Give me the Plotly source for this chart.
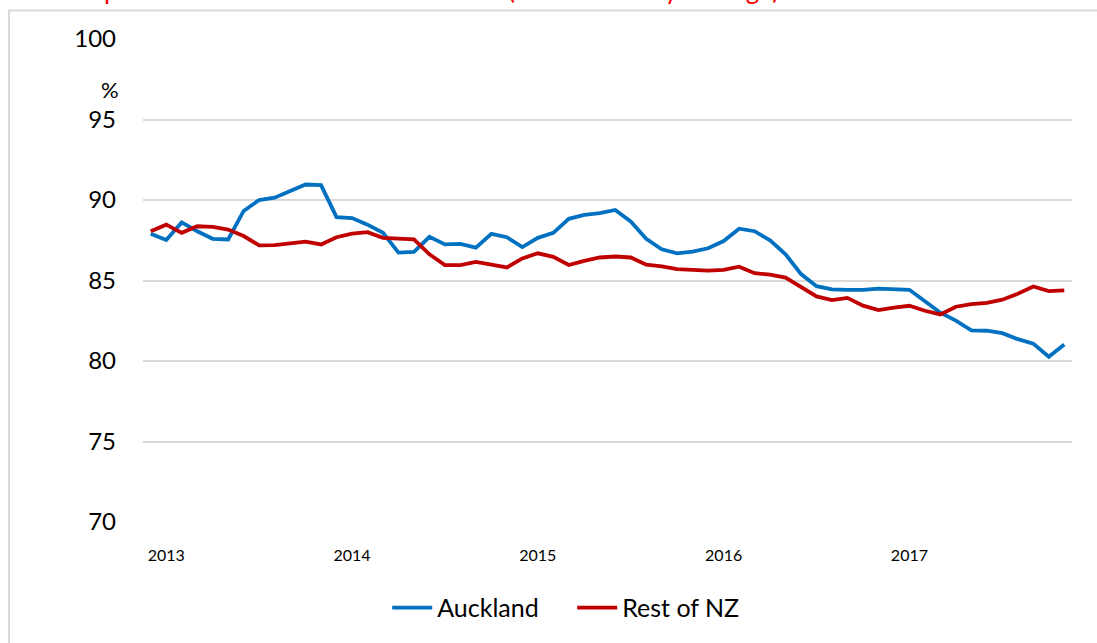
import pandas as pd
import plotly.graph_objects as go

# monthly observations, Dec 2012 - Nov 2017
months = list(pd.date_range("2012-12-01", periods=60, freq="MS").strftime("%b-%y"))

auckland = [87.90, 87.51, 88.61, 88.06, 87.59, 87.55, 89.32, 90.00, 90.14, 90.55,
            90.96, 90.92, 88.94, 88.88, 88.47, 87.96, 86.73, 86.78, 87.71, 87.24,
            87.28, 87.04, 87.90, 87.69, 87.08, 87.65, 87.96, 88.83, 89.08, 89.18,
            89.38, 88.67, 87.59, 86.94, 86.69, 86.79, 87.00, 87.45, 88.22, 88.06,
            87.49, 86.63, 85.40, 84.65, 84.45, 84.42, 84.42, 84.49, 84.47, 84.42,
            83.71, 83.00, 82.51, 81.90, 81.88, 81.73, 81.36, 81.08, 80.26, 81.02]

rest_of_nz = [88.06, 88.47, 87.96, 88.37, 88.33, 88.16, 87.76, 87.18, 87.20, 87.30,
              87.41, 87.24, 87.69, 87.91, 88.00, 87.65, 87.61, 87.55, 86.63, 85.96,
              85.96, 86.16, 85.98, 85.81, 86.37, 86.69, 86.47, 85.96, 86.22, 86.43,
              86.49, 86.43, 85.98, 85.88, 85.71, 85.67, 85.61, 85.66, 85.86, 85.45,
              85.36, 85.18, 84.59, 84.01, 83.78, 83.92, 83.44, 83.16, 83.32, 83.43,
              83.12, 82.89, 83.37, 83.53, 83.61, 83.81, 84.18, 84.63, 84.34, 84.39]

year_ticks = ["Jan-13", "Jan-14", "Jan-15", "Jan-16", "Jan-17"]
year_labels = ["2013", "2014", "2015", "2016", "2017"]

font = "Lato, Carlito, 'Noto Sans', sans-serif"

fig = go.Figure()
fig.add_trace(go.Scatter(x=months, y=auckland, name="Auckland", mode="lines",
                         line=dict(color="#0070C0", width=3.8)))
fig.add_trace(go.Scatter(x=months, y=rest_of_nz, name="Rest of NZ", mode="lines",
                         line=dict(color="#C00000", width=3.8)))

fig.update_layout(
    width=1097, height=643,
    margin=dict(l=143, r=25, t=39, b=114),
    paper_bgcolor="white", plot_bgcolor="white",
    font=dict(family=font, color="black"),
    showlegend=True,
    legend=dict(orientation="h", x=0.462, xanchor="center", y=-0.13, yanchor="top",
                font=dict(size=25), itemwidth=40, entrywidth=130),
    xaxis=dict(type="category", range=[-0.5, 59.5], tickmode="array",
               tickvals=year_ticks, ticktext=year_labels, showgrid=False,
               showline=False, ticks="", tickfont=dict(size=16), ticklabelstandoff=22),
    yaxis=dict(range=[70, 100], dtick=5, showgrid=True, gridcolor="#d9d9d9", gridwidth=1.5,
               zeroline=False, showline=False, ticks="", tickfont=dict(size=24),
               ticklabelstandoff=26),
)

fig.add_annotation(text="%", xref="paper", yref="paper", x=-0.0355, xanchor="center",
                   y=0.896, yanchor="middle", showarrow=False, font=dict(size=22))

# title sits above the visible frame; only its descenders show
fig.add_annotation(text="Proportion of loans at 80% LVR or less (three-monthly average)",
                   xref="paper", yref="paper", x=-0.086, xanchor="left",
                   y=1.066, yanchor="bottom", showarrow=False,
                   font=dict(size=26, color="#FF0000"))

# outer chart frame
fig.add_shape(type="rect", xref="paper", yref="paper", x0=-0.1442, y0=-0.4, x1=1.2, y1=1.059,
              line=dict(color="#d9d9d9", width=2), layer="below")

fig.write_html("out.html", config={"displayModeBar": False},
               post_script="document.body.style.margin='0';")
